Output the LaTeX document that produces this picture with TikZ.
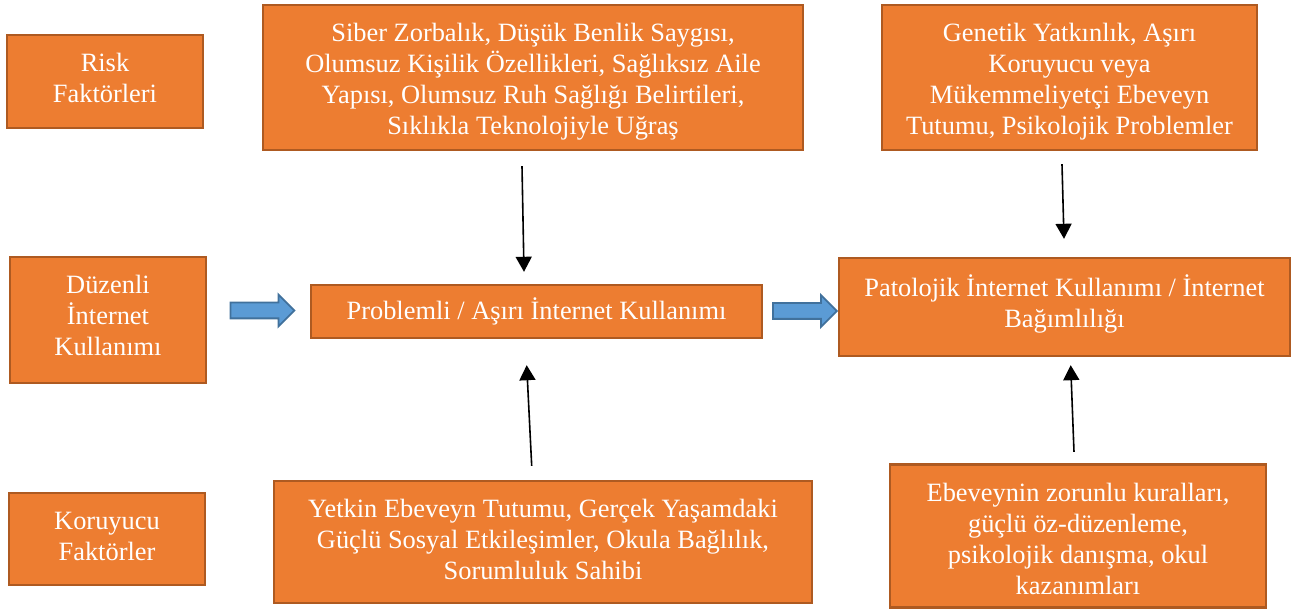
\documentclass[tikz,border=0pt]{standalone}
\usepackage{fontspec}
\setmainfont{Liberation Serif}
\usetikzlibrary{shapes.arrows,calc,arrows.meta}
\definecolor{boxfill}{HTML}{ED7D31}
\definecolor{boxline}{HTML}{AE5A21}
\definecolor{arrfill}{HTML}{5B9BD5}
\definecolor{arrline}{HTML}{41719C}
\begin{document}
\begin{tikzpicture}[x=0.5pt,y=-0.5pt,
  box/.style={draw=boxline, fill=boxfill, line width=1.2pt, inner sep=0pt},
  boxtext/.style={text=white, align=center, inner sep=0pt,
    font=\fontsize{13.2}{15.5}\selectfont},
  flowarrow/.style={shape=single arrow, draw=arrline, fill=arrfill,
    line width=0.9pt, minimum height=32pt, inner xsep=0pt, inner ysep=3.5pt,
    single arrow head extend=4pt, single arrow tip angle=90},
  link/.style={line width=0.8pt, -{Triangle[width=8pt,length=7.5pt]}}]
\useasboundingbox (0,0) rectangle (1298,610);

% left column: labels
\node[box, minimum width=98pt, minimum height=46.5pt,
  label={[boxtext, yshift=2pt]center:{Risk\\Faktörleri}}] (risk) at (105,81.5) {};
\node[box, minimum width=98pt, minimum height=63pt,
  label={[boxtext, yshift=2.5pt]center:{Düzenli\\İnternet\\Kullanımı}}] (duzenli) at (108,320) {};
\node[box, minimum width=98pt, minimum height=46pt,
  label={[boxtext, yshift=1.2pt]center:{Koruyucu\\Faktörler}}] (koruyucu) at (107,539) {};

% middle column
\node[box, minimum width=270pt, minimum height=72.5pt,
  label={[boxtext, yshift=-2pt]center:{Siber Zorbalık, Düşük Benlik Saygısı,\\
   Olumsuz Kişilik Özellikleri, Sağlıksız Aile\\
   Yapısı, Olumsuz Ruh Sağlığı Belirtileri,\\
   Sıklıkla Teknolojiyle Uğraş}}] (siber) at (533,77.5) {};
\node[box, minimum width=225.5pt, minimum height=26.5pt,
  label={[boxtext]center:{Problemli / Aşırı İnternet Kullanımı}}] (problem) at (536.5,311.5) {};
\node[box, minimum width=269pt, minimum height=61pt,
  label={[boxtext, yshift=1.5pt]center:{Yetkin Ebeveyn Tutumu, Gerçek Yaşamdaki\\
   Güçlü Sosyal Etkileşimler, Okula Bağlılık,\\
   Sorumluluk Sahibi}}] (yetkin) at (543,542) {};

% right column
\node[box, minimum width=187.5pt, minimum height=72.5pt,
  label={[boxtext, yshift=-2.2pt]center:{Genetik Yatkınlık, Aşırı\\
   Koruyucu veya\\
   Mükemmeliyetçi Ebeveyn\\
   Tutumu, Psikolojik Problemler}}] (genetik) at (1069.5,77.5) {};
\node[box, minimum width=225.5pt, minimum height=49pt,
  label={[boxtext, yshift=1.5pt]center:{Patolojik İnternet Kullanımı / İnternet\\
   Bağımlılığı}}] (patolojik) at (1064.5,307) {};
\node[box, minimum width=188pt, minimum height=71.5pt,
  label={[boxtext, yshift=-1.5pt]center:{Ebeveynin zorunlu kuralları,\\
   güçlü öz-düzenleme,\\
   psikolojik danışma, okul\\
   kazanımları}}] (ebeveyn) at (1078,536) {};

% progression arrows
\node[flowarrow] (flow1) at (258.5,310.5) {};
\node[flowarrow] (flow2) at (801,311) {};

% influence arrows
\draw[link] ($(siber.south)+(-11,15)$) -- ($(problem.north)+(-12.5,-12)$);
\draw[link] ($(genetik.south)+(-7.5,13)$) -- ($(patolojik.north)+(-0.5,-18)$);
\draw[link] ($(yetkin.north)+(-11.3,-14)$) -- ($(problem.south)+(-9.8,26)$);
\draw[link] ($(ebeveyn.north)+(-4,-11.5)$) -- ($(patolojik.south)+(6.2,8)$);
\end{tikzpicture}
\end{document}
